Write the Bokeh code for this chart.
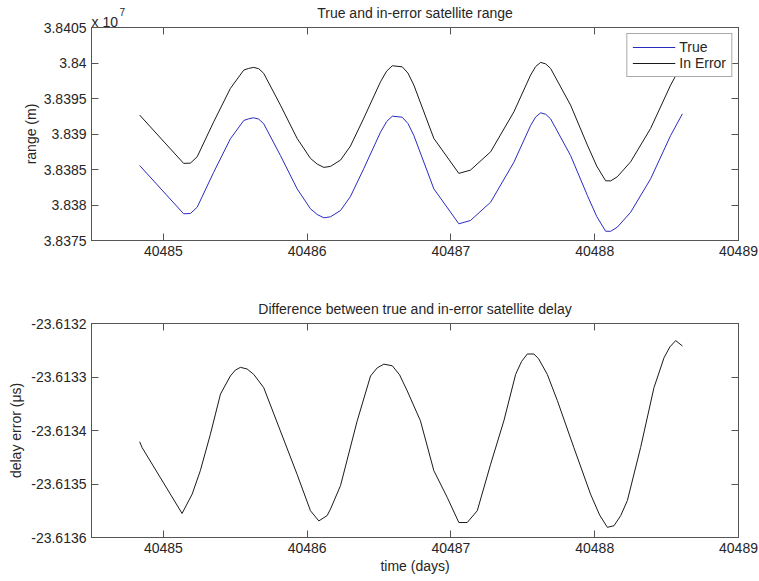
from bokeh.plotting import figure
from bokeh.models import Range1d, FixedTicker, LinearAxis, CustomLabelingPolicy
from bokeh.core.properties import value
from bokeh.layouts import column
from bokeh.embed import file_html
from bokeh.resources import INLINE

# ---------------- data ----------------
days_range = [40484.835, 40485.141, 40485.188, 40485.235, 40485.350, 40485.466,
              40485.559, 40485.593, 40485.628, 40485.663, 40485.698, 40485.814,
              40485.930, 40486.023, 40486.070, 40486.116, 40486.162, 40486.232,
              40486.301, 40486.394, 40486.510, 40486.553, 40486.592, 40486.661,
              40486.701, 40486.742, 40486.881, 40487.055, 40487.136, 40487.276,
              40487.438, 40487.554, 40487.589, 40487.624, 40487.659, 40487.693,
              40487.832, 40487.949, 40488.014, 40488.076, 40488.111, 40488.157,
              40488.250, 40488.389, 40488.528, 40488.610]

true_range = [38385563, 38378760, 38378802, 38379689, 38384619, 38389323,
              38391901, 38392140, 38392281, 38392098, 38391436, 38386971,
              38382281, 38379464, 38378661, 38378196, 38378337, 38379224,
              38381196, 38385140, 38390253, 38391760, 38392507, 38392366,
              38391478, 38389788, 38382281, 38377351, 38377816, 38380394,
              38386028, 38391197, 38392394, 38392985, 38392774, 38392140,
              38386971, 38381337, 38378379, 38376309, 38376295, 38376872,
              38378985, 38383689, 38389788, 38392845]

error_range = [38392663, 38385860, 38385902, 38386789, 38391719, 38396423,
               38399001, 38399240, 38399381, 38399198, 38398536, 38394071,
               38389381, 38386564, 38385761, 38385296, 38385437, 38386324,
               38388296, 38392240, 38397353, 38398860, 38399607, 38399466,
               38398578, 38396888, 38389381, 38384451, 38384916, 38387494,
               38393128, 38398297, 38399494, 38400085, 38399874, 38399240,
               38394071, 38388437, 38385479, 38383409, 38383395, 38383972,
               38386085, 38390789, 38396888, 38399945]

days_delay = [40484.835, 40484.852, 40485.130, 40485.200, 40485.257, 40485.327,
              40485.397, 40485.466, 40485.501, 40485.536, 40485.582, 40485.628,
              40485.698, 40485.814, 40485.930, 40486.023, 40486.081, 40486.139,
              40486.162, 40486.232, 40486.348, 40486.441, 40486.487, 40486.533,
              40486.592, 40486.643, 40486.696, 40486.788, 40486.881, 40486.974,
              40487.055, 40487.113, 40487.183, 40487.276, 40487.368, 40487.450,
              40487.491, 40487.531, 40487.577, 40487.610, 40487.670, 40487.740,
              40487.855, 40487.971, 40488.034, 40488.088, 40488.134, 40488.181,
              40488.227, 40488.319, 40488.412, 40488.482, 40488.522, 40488.563,
              40488.610]

delay_error = [-23.613421, -23.613432, -23.613555, -23.613519, -23.613475, -23.613407,
               -23.613332, -23.613298, -23.613287, -23.613282, -23.613285, -23.613295,
               -23.613320, -23.613401, -23.613482, -23.613550, -23.613569, -23.613559,
               -23.613547, -23.613503, -23.613382, -23.613298, -23.613283, -23.613276,
               -23.613279, -23.613296, -23.613326, -23.613382, -23.613475, -23.613525,
               -23.613572, -23.613572, -23.613550, -23.613463, -23.613382, -23.613295,
               -23.613271, -23.613257, -23.613257, -23.613266, -23.613295, -23.613344,
               -23.613432, -23.613519, -23.613558, -23.613581, -23.613578, -23.613559,
               -23.613531, -23.613432, -23.613320, -23.613264, -23.613244, -23.613232,
               -23.613242]

x_ticks = [40485, 40486, 40487, 40488, 40489]
x_tick_labels = ["40485", "40486", "40487", "40488", "40489"]

y_ticks_range = [38375000, 38380000, 38385000, 38390000, 38395000, 38400000, 38405000]
y_tick_labels_range = ["3.8375", "3.838", "3.8385", "3.839", "3.8395", "3.84", "3.8405"]

y_ticks_delay = [-23.6136, -23.6135, -23.6134, -23.6133, -23.6132]
y_tick_labels_delay = ["-23.6136", "-23.6135", "-23.6134", "-23.6133", "-23.6132"]

X_START, X_END = 40484.5, 40489
Y1_START, Y1_END = 38375000, 38405000
Y2_START, Y2_END = -23.6136, -23.6132

# ---------------- styling ----------------
FONT = "Liberation Sans"
TXT = "#262626"
AX = "#555555"
FS = "14px"

NO_LABELS = CustomLabelingPolicy(code="""
for (const i of Array.from(indices)) {
    if (typeof indices.unset === 'function') { indices.unset(i) }
}
return indices
""")


def setup_axis(ax, ticks, labels, show_labels=True):
    ax.ticker = FixedTicker(ticks=ticks)
    ax.major_tick_in = 7
    ax.major_tick_out = 0
    ax.minor_tick_line_color = None
    ax.axis_line_color = AX
    ax.major_tick_line_color = AX
    ax.major_label_text_font = FONT
    ax.major_label_text_color = TXT
    ax.axis_label_text_font = FONT
    ax.axis_label_text_font_size = FS
    ax.axis_label_text_font_style = "normal"
    ax.axis_label_text_color = TXT
    if show_labels:
        ax.major_label_overrides = dict(zip(ticks, labels))
        ax.major_label_text_font_size = FS
        ax.major_label_standoff = 5
    else:
        ax.major_label_policy = NO_LABELS
        ax.major_label_text_font_size = "0px"
        ax.major_label_standoff = 0


def make_fig(height, y_start, y_end, border_top, border_bottom, title):
    p = figure(width=759, height=height,
               x_range=Range1d(X_START, X_END), y_range=Range1d(y_start, y_end),
               output_backend="svg", toolbar_location=None,
               min_border_left=91, min_border_right=21,
               min_border_top=border_top, min_border_bottom=border_bottom,
               background_fill_color="white", border_fill_color="white",
               outline_line_color=AX)
    p.grid.visible = False
    p.title.text = title
    p.title.align = "center"
    p.title.vertical_align = "top"
    p.title.text_font = FONT
    p.title.text_font_size = FS
    p.title.text_font_style = "normal"
    p.title.text_color = TXT
    p.title.standoff = 9
    p.add_layout(LinearAxis(), "above")
    p.add_layout(LinearAxis(), "right")
    return p


# ---------------- top: range ----------------
p1 = make_fig(290, Y1_START, Y1_END, 27, 50, "True and in-error satellite range")
p1.line(days_range, true_range, line_color="#2a2ac0", line_width=1, legend_label="True")
p1.line(days_range, error_range, line_color="#1a1a1a", line_width=1, legend_label="In Error")

setup_axis(p1.below[0], x_ticks, x_tick_labels)
setup_axis(p1.above[0], x_ticks, x_tick_labels, show_labels=False)
setup_axis(p1.left[0], y_ticks_range, y_tick_labels_range)
setup_axis(p1.right[0], y_ticks_range, y_tick_labels_range, show_labels=False)
p1.left[0].axis_label = "range (m)"
p1.left[0].axis_label_standoff = 2

lg = p1.legend[0]
lg.location = "top_right"
lg.margin = 6
lg.padding = 5
lg.spacing = 0
lg.glyph_width = 43
lg.glyph_height = 16
lg.label_height = 16
lg.label_standoff = 4
lg.border_line_color = AX
lg.border_line_width = 1
lg.background_fill_color = "white"
lg.background_fill_alpha = 1
lg.label_text_font = FONT
lg.label_text_font_size = FS
lg.label_text_color = TXT

# "x 10^7" multiplier at the top-left corner of the axes (overlay level: not clipped)
p1.text(x=[X_START], y=[Y1_END], text=["x 10"], y_offset=-6, level="overlay",
        text_font=value(FONT), text_font_size=FS, text_color=TXT,
        text_baseline="alphabetic", text_align="left")
p1.text(x=[X_START], y=[Y1_END], text=["7"], x_offset=28, y_offset=-16, level="overlay",
        text_font=value(FONT), text_font_size="10px", text_color=TXT,
        text_baseline="alphabetic", text_align="left")

# ---------------- bottom: delay error ----------------
p2 = make_fig(291, Y2_START, Y2_END, 33, 44,
              "Difference between true and in-error satellite delay")
p2.line(days_delay, delay_error, line_color="#1a1a1a", line_width=1)

setup_axis(p2.below[0], x_ticks, x_tick_labels)
setup_axis(p2.above[0], x_ticks, x_tick_labels, show_labels=False)
setup_axis(p2.left[0], y_ticks_delay, y_tick_labels_delay)
setup_axis(p2.right[0], y_ticks_delay, y_tick_labels_delay, show_labels=False)
p2.left[0].axis_label = "delay error (\u03bcs)"
p2.left[0].axis_label_standoff = 4
p2.below[0].axis_label = "time (days)"
p2.below[0].axis_label_standoff = 2

layout = column(p1, p2, spacing=0)
open("out.html", "w").write(file_html(layout, INLINE))
